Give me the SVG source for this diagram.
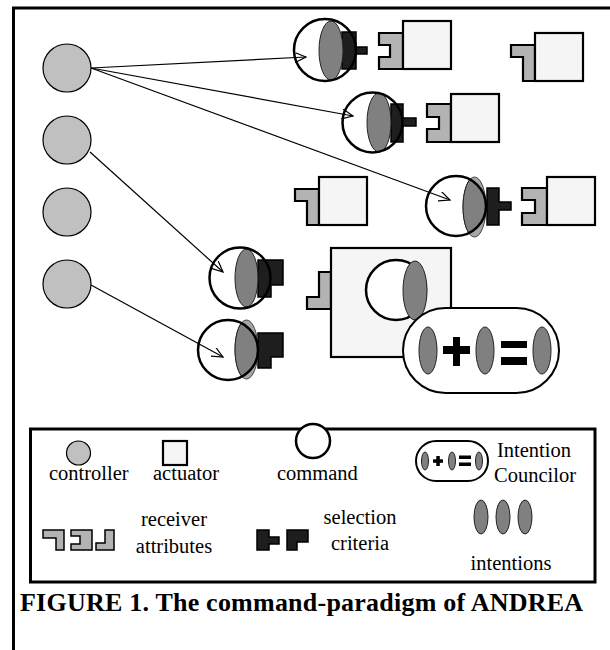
<svg xmlns="http://www.w3.org/2000/svg" width="610" height="650" viewBox="0 0 610 650">
<style>
.frame{fill:none;stroke:#000;stroke-width:3}
.ctrl{fill:#c0c0c0;stroke:#000;stroke-width:1.2}
.act{fill:#f5f5f5;stroke:#000;stroke-width:2.2}
.rcv{fill:#b3b3b3;stroke:#000;stroke-width:2.2}
.sel{fill:#1e1e1e;stroke:#000;stroke-width:1.5}
.cmdbg{fill:#fff;stroke:none}
.cmd{fill:none;stroke:#000;stroke-width:2.5}
.int{fill:#808080;stroke:#222;stroke-width:1}
.intl{fill:#a6a6a6;stroke:#444;stroke-width:1}
.pill{fill:#fff;stroke:#000;stroke-width:2}
.op{fill:#000}
.conn line{stroke:#000;stroke-width:1.2;marker-end:url(#arr)}
text{font-family:"Liberation Serif","Times New Roman",serif;fill:#000}
.lbl{font-size:20.5px}
.cap{font-size:26px;font-weight:bold}
</style>
<defs>
<marker id="arr" markerUnits="userSpaceOnUse" markerWidth="14" markerHeight="12" refX="11" refY="5" orient="auto">
<path d="M0,0 L11,5 L0,10" fill="none" stroke="#000" stroke-width="1.2"/>
</marker>
<clipPath id="c3"><circle cx="456" cy="206" r="30"/></clipPath>
<clipPath id="c5"><circle cx="228" cy="350" r="30"/></clipPath>
</defs>

<path class="frame" d="M610,8 H13.5 V650"/>

<g id="controller1"><circle class="ctrl" cx="67" cy="68" r="24"/></g>
<g id="controller2"><circle class="ctrl" cx="67" cy="140" r="24"/></g>
<g id="controller3"><circle class="ctrl" cx="67" cy="212" r="24"/></g>
<g id="controller4"><circle class="ctrl" cx="67" cy="284" r="24"/></g>

<g id="command1">
<circle class="cmdbg" cx="325" cy="50" r="31"/>
<path class="sel" d="M342,32 H356 V47 H367 V54 H356 V69 H342 Z"/>
<ellipse class="int" cx="331" cy="50.5" rx="12" ry="29.5"/>
<circle class="cmd" cx="325" cy="50" r="31"/>
</g>
<g id="actuator1">
<polygon class="rcv" points="379,33 403,33 403,69 379,69 379,57 390,57 390,45 379,45"/>
<rect class="act" x="403" y="21" width="48" height="48"/>
</g>

<g id="actuator-top-right">
<polygon class="rcv" points="511,45 535,45 535,81 523,81 523,57 511,57"/>
<rect class="act" x="535" y="33" width="48" height="48"/>
</g>

<g id="command2">
<circle class="cmdbg" cx="372.5" cy="122.5" r="30"/>
<path class="sel" d="M391,104 H403 V118 H416 V126 H403 V142 H391 Z"/>
<ellipse class="int" cx="379" cy="122.5" rx="12" ry="29.5"/>
<circle class="cmd" cx="372.5" cy="122.5" r="30"/>
</g>
<g id="actuator2">
<polygon class="rcv" points="427,104 451,104 451,142 427,142 427,129 439,129 439,117 427,117"/>
<rect class="act" x="451" y="94" width="48" height="48"/>
</g>

<g id="actuator-mid-left">
<polygon class="rcv" points="295,189 319,189 319,225 307,225 307,201 295,201"/>
<rect class="act" x="319" y="177" width="48" height="48"/>
</g>

<g id="command3">
<circle class="cmdbg" cx="456" cy="206" r="30"/>
<path class="sel" d="M487,188 H499 V202 H511 V210 H499 V225 H487 Z"/>
<ellipse class="intl" cx="474.5" cy="207" rx="11.5" ry="30"/>
<ellipse class="int" cx="474.5" cy="207" rx="11.5" ry="30" clip-path="url(#c3)"/>
<circle class="cmd" cx="456" cy="206" r="30"/>
</g>
<g id="actuator3">
<polygon class="rcv" points="522,188 547,188 547,225 522,225 522,213 535,213 535,200 522,200"/>
<rect class="act" x="547" y="177" width="48" height="48"/>
</g>

<g id="command4">
<circle class="cmdbg" cx="240" cy="278" r="30.5"/>
<path class="sel" d="M258,260 H283 V285 H271 V297 H258 Z"/>
<ellipse class="int" cx="246.5" cy="278" rx="11.5" ry="29"/>
<circle class="cmd" cx="240" cy="278" r="30.5"/>
</g>

<g id="command5">
<circle class="cmdbg" cx="228" cy="350" r="30"/>
<path class="sel" d="M258,333 H283 V357 H271 V368 H258 Z"/>
<ellipse class="intl" cx="246.5" cy="349.5" rx="11.5" ry="29.5"/>
<ellipse class="int" cx="246.5" cy="349.5" rx="11.5" ry="29.5" clip-path="url(#c5)"/>
<circle class="cmd" cx="228" cy="350" r="30"/>
</g>

<g id="actuator-big">
<polygon class="rcv" points="319,272 331,272 331,309 307,309 307,297 319,297"/>
<rect class="act" x="331" y="248" width="120" height="109"/>
<circle class="cmd" cx="396" cy="290" r="30" style="fill:#fff"/>
<ellipse class="int" cx="415" cy="290.5" rx="12" ry="29.5"/>
</g>

<g id="intention-councilor">
<rect class="pill" x="403" y="308" width="156" height="85" rx="42.5"/>
<ellipse class="int" cx="428" cy="350.5" rx="9" ry="23.5"/>
<rect class="op" x="443" y="346" width="27" height="8"/>
<rect class="op" x="453" y="337" width="7" height="29"/>
<ellipse class="int" cx="485" cy="350.5" rx="9" ry="23.5"/>
<rect class="op" x="501" y="341" width="26" height="7"/>
<rect class="op" x="501" y="357" width="26" height="8"/>
<ellipse class="int" cx="542" cy="350.5" rx="9" ry="23.5"/>
</g>

<g id="connectors" class="conn">
<line x1="91" y1="68" x2="306" y2="57"/>
<line x1="91" y1="68" x2="353" y2="116"/>
<line x1="91" y1="68" x2="450" y2="200"/>
<line x1="90" y1="152" x2="223" y2="272"/>
<line x1="91" y1="285" x2="223" y2="357"/>
</g>

<g id="legend">
<rect class="frame" x="30.5" y="429" width="564.5" height="153"/>
<circle class="ctrl" cx="78.5" cy="453" r="12"/>
<text class="lbl" x="49" y="480">controller</text>
<rect class="act" x="163" y="441" width="24" height="24"/>
<text class="lbl" x="153" y="480">actuator</text>
<circle class="cmd" cx="313" cy="441" r="17" style="fill:#fff"/>
<text class="lbl" x="277" y="480">command</text>
<rect class="pill" x="416" y="441" width="72" height="40" rx="20"/>
<ellipse class="int" cx="425" cy="461" rx="3.5" ry="9"/>
<rect class="op" x="433" y="459.3" width="10" height="3.5"/>
<rect class="op" x="436.3" y="456" width="3.5" height="10"/>
<ellipse class="int" cx="452" cy="461" rx="3.5" ry="9"/>
<rect class="op" x="459" y="455.5" width="12" height="3.5"/>
<rect class="op" x="459" y="462.5" width="12" height="3.5"/>
<ellipse class="int" cx="479" cy="461" rx="3.5" ry="9"/>
<text class="lbl" x="534" y="457" text-anchor="middle">Intention</text>
<text class="lbl" x="535" y="482" text-anchor="middle">Councilor</text>
<polygon class="rcv" points="43,530 64,530 64,550 56,550 56,538 43,538" style="stroke-width:1.5"/>
<polygon class="rcv" points="71,530 92,530 92,550 71,550 71,544 80,544 80,536 71,536" style="stroke-width:1.5"/>
<polygon class="rcv" points="105,530 114,530 114,550 96,550 96,543 105,543" style="stroke-width:1.5"/>
<text class="lbl" x="174" y="526" text-anchor="middle">receiver</text>
<text class="lbl" x="174" y="553" text-anchor="middle">attributes</text>
<path class="sel" d="M257,530 H269 V537 H279 V544 H269 V550 H257 Z"/>
<path class="sel" d="M287,530 H308 V542 H297 V550 H287 Z"/>
<text class="lbl" x="360" y="524" text-anchor="middle">selection</text>
<text class="lbl" x="360" y="550" text-anchor="middle">criteria</text>
<ellipse class="int" cx="481" cy="517" rx="7" ry="17"/>
<ellipse class="int" cx="503" cy="517" rx="7" ry="17"/>
<ellipse class="int" cx="525" cy="517" rx="7" ry="17"/>
<text class="lbl" x="511" y="570" text-anchor="middle">intentions</text>
</g>

<text class="cap" x="20" y="611" textLength="563" lengthAdjust="spacing">FIGURE 1. The command-paradigm of ANDREA</text>
</svg>
